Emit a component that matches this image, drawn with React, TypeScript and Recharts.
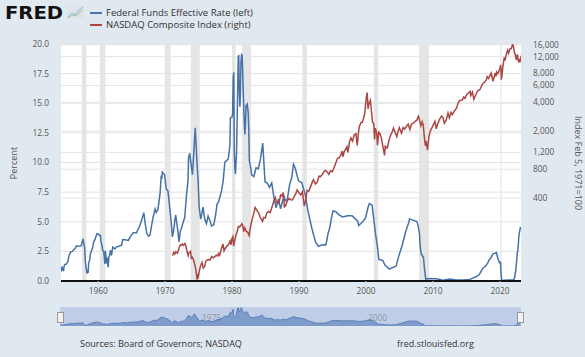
import React from 'react';
import { ComposedChart, Line, XAxis, YAxis, CartesianGrid, ReferenceArea, AreaChart, Area } from 'recharts';

const FONT = "'Open Sans', 'DejaVu Sans', sans-serif";

// Federal Funds Effective Rate (percent)
const fedDates = [
  1954.50, 1954.58, 1954.67, 1954.83, 1954.92, 1955.00, 1955.25, 1955.50, 1955.58, 1955.67, 1955.83, 1955.92,
  1956.17, 1956.33, 1956.58, 1956.75, 1956.92, 1957.25, 1957.50, 1957.67, 1957.75, 1957.92, 1958.00, 1958.08,
  1958.17, 1958.33, 1958.42, 1958.50, 1958.58, 1958.75, 1958.83, 1958.92, 1959.17, 1959.33, 1959.50, 1959.67,
  1959.83, 1960.00, 1960.17, 1960.33, 1960.42, 1960.58, 1960.67, 1960.83, 1960.92, 1961.00, 1961.08, 1961.17,
  1961.25, 1961.33, 1961.50, 1961.58, 1961.75, 1961.83, 1962.00, 1962.17, 1962.50, 1962.75, 1963.00, 1963.50,
  1963.67, 1964.00, 1964.50, 1964.92, 1965.25, 1965.75, 1965.92, 1966.17, 1966.50, 1966.83, 1967.00, 1967.25,
  1967.50, 1967.75, 1967.92, 1968.25, 1968.50, 1968.67, 1968.92, 1969.25, 1969.42, 1969.50, 1969.58, 1969.92,
  1970.17, 1970.42, 1970.67, 1970.92, 1971.08, 1971.25, 1971.50, 1971.58, 1971.92, 1972.08, 1972.25, 1972.50,
  1972.75, 1972.92, 1973.17, 1973.42, 1973.50, 1973.67, 1973.83, 1974.08, 1974.25, 1974.50, 1974.58, 1974.75,
  1974.92, 1975.08, 1975.25, 1975.33, 1975.67, 1975.92, 1976.17, 1976.42, 1976.75, 1976.92, 1977.25, 1977.50,
  1977.75, 1978.00, 1978.42, 1978.67, 1978.92, 1979.42, 1979.67, 1979.75, 1980.00, 1980.08, 1980.17, 1980.25,
  1980.33, 1980.42, 1980.50, 1980.67, 1980.83, 1980.92, 1981.00, 1981.08, 1981.17, 1981.25, 1981.33, 1981.42,
  1981.50, 1981.58, 1981.67, 1981.83, 1981.92, 1982.00, 1982.08, 1982.25, 1982.42, 1982.50, 1982.58, 1982.75,
  1982.92, 1983.25, 1983.58, 1983.92, 1984.25, 1984.58, 1984.75, 1984.92, 1985.25, 1985.58, 1985.92, 1986.25,
  1986.58, 1986.92, 1987.25, 1987.75, 1987.92, 1988.25, 1988.58, 1988.92, 1989.17, 1989.42, 1989.92, 1990.42,
  1990.92, 1991.33, 1991.92, 1992.25, 1992.50, 1992.92, 1993.50, 1994.00, 1994.17, 1994.33, 1994.58, 1994.83,
  1995.08, 1995.50, 1995.92, 1996.50, 1997.25, 1997.92, 1998.75, 1998.92, 1999.50, 1999.92, 2000.33, 2000.50,
  2000.92, 2001.00, 2001.25, 2001.42, 2001.67, 2001.92, 2002.50, 2002.83, 2003.50, 2004.50, 2004.92, 2005.42,
  2005.92, 2006.42, 2006.50, 2007.58, 2007.75, 2007.92, 2008.00, 2008.08, 2008.25, 2008.58, 2008.75, 2008.92,
  2009.50, 2010.50, 2011.50, 2012.50, 2013.50, 2014.50, 2015.50, 2015.92, 2016.50, 2016.92, 2017.17, 2017.42,
  2017.92, 2018.17, 2018.42, 2018.67, 2018.92, 2019.50, 2019.58, 2019.75, 2019.92, 2020.08, 2020.17, 2020.25,
  2021.00, 2022.00, 2022.17, 2022.33, 2022.42, 2022.50, 2022.58, 2022.67, 2022.75, 2022.83, 2022.92, 2023.00,
  2023.08,
];
const fedRates = [
  0.80, 1.22, 1.07, 0.83, 1.28, 1.39, 1.43, 1.68, 1.96, 2.18, 2.35, 2.48,
  2.50, 2.62, 2.75, 2.96, 2.94, 2.96, 3.00, 3.47, 3.50, 2.98, 2.72, 1.67,
  1.20, 0.63, 0.93, 0.68, 1.53, 1.80, 2.27, 2.42, 2.80, 3.30, 3.47, 3.76,
  4.00, 3.99, 3.84, 3.85, 3.32, 2.98, 2.60, 2.44, 1.98, 1.45, 2.54, 2.02,
  1.49, 1.98, 1.16, 2.00, 2.26, 2.61, 2.15, 2.85, 2.71, 2.90, 2.92, 3.02,
  3.49, 3.48, 3.42, 3.85, 4.07, 4.08, 4.32, 4.60, 5.17, 5.76, 4.94, 4.05,
  3.79, 3.88, 4.51, 5.50, 6.07, 5.78, 6.02, 7.41, 8.90, 8.61, 9.19, 8.97,
  7.76, 7.60, 6.29, 4.90, 3.72, 4.16, 5.31, 5.57, 4.14, 3.29, 4.17, 4.55,
  5.06, 5.33, 7.09, 8.49, 10.40, 10.78, 10.03, 8.97, 10.51, 12.92, 12.01, 10.06,
  8.53, 6.24, 5.49, 5.22, 6.24, 5.20, 4.84, 5.48, 5.03, 4.65, 4.73, 5.42,
  6.47, 6.70, 7.60, 8.45, 10.03, 10.29, 11.43, 13.77, 13.82, 14.13, 17.19, 17.61,
  10.98, 9.47, 9.03, 10.87, 15.85, 18.90, 19.08, 15.93, 14.70, 15.72, 18.52, 19.10,
  19.04, 17.82, 15.87, 13.31, 12.37, 13.22, 14.78, 14.94, 14.15, 12.59, 10.12, 9.71,
  8.95, 8.80, 9.56, 9.47, 10.32, 11.64, 9.99, 8.38, 8.27, 7.90, 8.27, 7.06,
  6.17, 6.91, 6.10, 7.22, 6.77, 6.87, 8.10, 8.76, 9.85, 9.53, 8.45, 8.29,
  7.31, 5.91, 4.43, 3.73, 3.25, 2.92, 3.06, 3.05, 3.48, 4.01, 4.47, 5.29,
  5.92, 5.85, 5.60, 5.40, 5.50, 5.50, 5.07, 4.68, 4.99, 5.30, 6.27, 6.53,
  6.40, 5.98, 4.80, 3.97, 3.07, 1.82, 1.73, 1.34, 1.01, 1.26, 2.16, 3.04,
  4.16, 4.99, 5.24, 5.02, 4.76, 4.24, 3.94, 2.98, 2.28, 2.00, 0.97, 0.16,
  0.21, 0.18, 0.07, 0.16, 0.09, 0.09, 0.13, 0.24, 0.38, 0.54, 0.79, 1.04,
  1.30, 1.51, 1.82, 1.95, 2.27, 2.40, 2.13, 1.83, 1.55, 1.58, 0.65, 0.05,
  0.09, 0.08, 0.20, 0.77, 1.21, 1.68, 2.33, 2.56, 3.08, 3.78, 4.10, 4.33,
  4.57,
];

// NASDAQ Composite Index (Feb 5, 1971 = 100)
const nasdaqDates = [
  1971.10, 1971.30, 1971.45, 1971.60, 1971.85, 1971.98, 1972.15, 1972.30, 1972.45, 1972.60, 1972.75, 1972.95,
  1973.10, 1973.30, 1973.45, 1973.55, 1973.80, 1973.92, 1974.05, 1974.20, 1974.40, 1974.55, 1974.70, 1974.77,
  1974.83, 1974.92, 1975.05, 1975.20, 1975.35, 1975.50, 1975.70, 1975.90, 1976.10, 1976.30, 1976.50, 1976.70,
  1976.95, 1977.20, 1977.45, 1977.65, 1977.85, 1977.98, 1978.15, 1978.40, 1978.65, 1978.80, 1978.95, 1979.20,
  1979.45, 1979.70, 1979.85, 1979.98, 1980.12, 1980.23, 1980.40, 1980.60, 1980.80, 1980.95, 1981.15, 1981.45,
  1981.60, 1981.73, 1981.90, 1982.10, 1982.35, 1982.55, 1982.75, 1982.95, 1983.20, 1983.45, 1983.60, 1983.80,
  1983.98, 1984.20, 1984.55, 1984.70, 1984.95, 1985.20, 1985.45, 1985.70, 1985.98, 1986.25, 1986.45, 1986.65,
  1986.98, 1987.25, 1987.45, 1987.65, 1987.80, 1987.98, 1988.25, 1988.50, 1988.75, 1988.98, 1989.25, 1989.55,
  1989.72, 1989.98, 1990.25, 1990.50, 1990.78, 1990.98, 1991.20, 1991.45, 1991.70, 1991.98, 1992.15, 1992.45,
  1992.70, 1992.98, 1993.20, 1993.45, 1993.75, 1993.98, 1994.20, 1994.45, 1994.70, 1994.98, 1995.25, 1995.50,
  1995.75, 1995.98, 1996.25, 1996.45, 1996.55, 1996.75, 1996.98, 1997.15, 1997.30, 1997.55, 1997.75, 1997.98,
  1998.25, 1998.50, 1998.70, 1998.85, 1998.98, 1999.25, 1999.45, 1999.65, 1999.80, 1999.98, 2000.10, 2000.19,
  2000.30, 2000.45, 2000.65, 2000.80, 2000.98, 2001.15, 2001.28, 2001.40, 2001.60, 2001.72, 2001.90, 2002.05,
  2002.30, 2002.55, 2002.77, 2002.88, 2002.98, 2003.20, 2003.45, 2003.70, 2003.98, 2004.10, 2004.35, 2004.60,
  2004.80, 2004.98, 2005.30, 2005.55, 2005.75, 2005.98, 2006.30, 2006.55, 2006.80, 2006.98, 2007.15, 2007.30,
  2007.60, 2007.82, 2007.98, 2008.20, 2008.40, 2008.55, 2008.75, 2008.88, 2008.98, 2009.18, 2009.40, 2009.60,
  2009.98, 2010.30, 2010.50, 2010.70, 2010.98, 2011.30, 2011.50, 2011.70, 2011.98, 2012.25, 2012.45, 2012.70,
  2012.90, 2013.20, 2013.50, 2013.75, 2013.98, 2014.20, 2014.40, 2014.60, 2014.80, 2014.98, 2015.30, 2015.55,
  2015.65, 2015.90, 2016.10, 2016.40, 2016.70, 2016.98, 2017.40, 2017.70, 2017.98, 2018.10, 2018.30, 2018.70,
  2018.97, 2019.30, 2019.42, 2019.55, 2019.70, 2019.98, 2020.12, 2020.22, 2020.45, 2020.65, 2020.75, 2020.98,
  2021.15, 2021.30, 2021.50, 2021.70, 2021.88, 2022.00, 2022.15, 2022.30, 2022.45, 2022.60, 2022.78, 2022.90,
  2022.98, 2023.08, 2023.12,
];
const nasdaqValues = [
  100, 108, 104, 110, 106, 114, 124, 130, 129, 132, 128, 134,
  126, 109, 100, 107, 111, 94, 96, 92, 82, 74, 62, 56,
  64, 58, 66, 74, 80, 85, 74, 77, 88, 90, 91, 90,
  98, 95, 98, 101, 99, 105, 101, 118, 132, 112, 118, 125,
  130, 142, 130, 151, 158, 126, 145, 165, 183, 202, 200, 215,
  205, 178, 195, 180, 175, 162, 200, 232, 270, 318, 305, 290,
  278, 250, 228, 250, 247, 280, 290, 282, 325, 375, 405, 360,
  349, 430, 420, 455, 323, 330, 375, 395, 384, 381, 410, 450,
  485, 454, 430, 465, 330, 374, 480, 470, 520, 586, 620, 560,
  583, 677, 670, 700, 760, 777, 750, 706, 770, 752, 840, 933,
  1040, 1052, 1130, 1240, 1080, 1230, 1291, 1370, 1200, 1560, 1700, 1570,
  1830, 1880, 1420, 1850, 2193, 2460, 2470, 2760, 3000, 4069, 4700, 5048,
  3400, 3900, 4200, 3300, 2470, 2400, 1640, 2150, 1900, 1423, 1940, 1900,
  1700, 1350, 1114, 1420, 1335, 1340, 1620, 1830, 2003, 2150, 1950, 1752,
  2000, 2175, 1904, 2180, 2100, 2205, 2370, 2080, 2370, 2415, 2450, 2520,
  2600, 2860, 2652, 2270, 2500, 2300, 1650, 1400, 1577, 1268, 1750, 2000,
  2269, 2530, 2110, 2370, 2652, 2873, 2770, 2415, 2605, 3091, 2750, 3140,
  2970, 3250, 3450, 3900, 4176, 4200, 4250, 4550, 4400, 4736, 5000, 5200,
  4700, 5100, 4300, 4800, 5300, 5383, 6200, 6500, 6903, 7400, 7100, 8100,
  6635, 8095, 7450, 8300, 8000, 8973, 9800, 6900, 9500, 11800, 10900, 12888,
  14000, 13000, 14500, 14600, 16050, 15600, 13500, 12500, 11100, 12700, 10500, 11300,
  10466, 11600, 11400,
];

// NBER recessions
const recessionStarts = [1957.58, 1960.25, 1969.92, 1973.83, 1980.0, 1981.5, 1990.5, 2001.17, 2007.92, 2020.08];
const recessionEnds = [1958.25, 1961.08, 1970.83, 1975.17, 1980.5, 1982.83, 1991.17, 2001.83, 2009.42, 2020.25];

const xTicks = [1960, 1970, 1980, 1990, 2000, 2010, 2020];
const leftTicks = [0, 2.5, 5, 7.5, 10, 12.5, 15, 17.5, 20];
const rightTicks = [400, 800, 1200, 2000, 4000, 6000, 8000, 12000, 16000];

const X_DOMAIN: [number, number] = [1954.45, 2023.15];

const fedData = fedDates.map((t, i) => ({ t, v: fedRates[i] }));
const nasdaqData = nasdaqDates.map((t, i) => ({ t, v: nasdaqValues[i] }));

const tickStyle = { fontSize: 8.3, fill: '#555', fontFamily: FONT };

export default function App() {
  return (
    <div style={{ position: 'absolute', left: 0, top: 0, width: 585, height: 357, background: '#e1e9f0', fontFamily: FONT, overflow: 'hidden' }}>
      {/* FRED logo */}
      <div style={{ position: 'absolute', left: 5, top: 2, fontFamily: "'DejaVu Sans', sans-serif", fontWeight: 'bold', fontSize: 17, lineHeight: '22px', color: '#111', transform: 'scaleX(1.15)', transformOrigin: 'left center' }}>FRED</div>
      <svg style={{ position: 'absolute', left: 67, top: 5 }} width={17} height={14}>
        <rect x={0} y={0} width={17} height={14} fill="#dfe4e8" />
        <polyline points="1,12 5,8 8,10 12,5 16,2" fill="none" stroke="#8ab4d8" strokeWidth={1} />
        <polyline points="1,13 5,10 9,11 13,7 16,5" fill="none" stroke="#9fc48a" strokeWidth={1} />
      </svg>
      {/* Legend */}
      <div style={{ position: 'absolute', left: 90, top: 12, width: 12, height: 2, background: '#4572a7' }} />
      <div style={{ position: 'absolute', left: 106, top: 6, fontSize: 9.5, lineHeight: '14px', color: '#333' }}>Federal Funds Effective Rate (left)</div>
      <div style={{ position: 'absolute', left: 90, top: 24, width: 12, height: 2, background: '#aa4643' }} />
      <div style={{ position: 'absolute', left: 106, top: 18, fontSize: 9.5, lineHeight: '14px', color: '#333' }}>NASDAQ Composite Index (right)</div>

      {/* Axis titles */}
      <div style={{ position: 'absolute', left: 13.5 - 50, top: 163 - 7, width: 100, height: 14, lineHeight: '14px', textAlign: 'center', fontSize: 9, color: '#555', transform: 'rotate(-90deg)' }}>Percent</div>
      <div style={{ position: 'absolute', left: 577.5 - 70, top: 163 - 7, width: 140, height: 14, lineHeight: '14px', textAlign: 'center', fontSize: 9, color: '#555', transform: 'rotate(90deg)' }}>Index Feb 5, 1971=100</div>

      {/* Main chart */}
      <div style={{ position: 'absolute', left: 0, top: 0 }}>
        <ComposedChart width={585} height={300} margin={{ top: 44, right: 0, bottom: 0, left: 0 }}>
          {recessionStarts.map((s, i) => (
            <ReferenceArea key={i} yAxisId="left" x1={s} x2={recessionEnds[i]} y1={0} y2={20} fill="#e5e5e5" fillOpacity={1} stroke="none" ifOverflow="hidden" />
          ))}
          <CartesianGrid yAxisId="left" vertical={false} stroke="#e4e4e4" fill="#ffffff" />
          <CartesianGrid yAxisId="right" vertical={false} stroke="#e4e4e4" />
          <XAxis dataKey="t" type="number" domain={X_DOMAIN} ticks={xTicks} allowDataOverflow height={19} tickSize={5} tickMargin={2}
            axisLine={{ stroke: '#111', strokeWidth: 2 }} tickLine={{ stroke: '#ccd6eb' }} tick={tickStyle} />
          <YAxis yAxisId="left" orientation="left" width={61} domain={[0, 20]} ticks={leftTicks} allowDataOverflow interval={0}
            tickFormatter={(v: number) => v.toFixed(1)} axisLine={false} tickLine={false} tickSize={0} tickMargin={12} tick={tickStyle} />
          <YAxis yAxisId="right" orientation="right" width={64} scale="log" domain={[54.3, 16265]} ticks={rightTicks} allowDataOverflow interval={0}
            tickFormatter={(v: number) => v.toLocaleString('en-US')} axisLine={false} tickLine={false} tickSize={0} tickMargin={12} tick={{ ...tickStyle, textAnchor: 'start' }} />
          <Line yAxisId="left" data={fedData} dataKey="v" type="linear" stroke="#4572a7" strokeWidth={1.5} dot={false} isAnimationActive={false} />
          <Line yAxisId="right" data={nasdaqData} dataKey="v" type="linear" stroke="#aa4643" strokeWidth={1.5} dot={false} isAnimationActive={false} />
        </ComposedChart>
      </div>

      {/* Navigator */}
      <div style={{ position: 'absolute', left: 60, top: 307, width: 461, height: 19, background: '#bfcde6' }} />
      <div style={{ position: 'absolute', left: 60, top: 307 }}>
        <AreaChart width={461} height={19} margin={{ top: 0, right: 0, bottom: 0, left: 0 }}>
          <XAxis dataKey="t" type="number" domain={X_DOMAIN} hide allowDataOverflow />
          <YAxis domain={[0, 20]} hide />
          <Area data={fedData} dataKey="v" type="linear" stroke="#5a7fba" strokeWidth={1} fill="#7f9bcb" fillOpacity={1} isAnimationActive={false} />
        </AreaChart>
      </div>
      <div style={{ position: 'absolute', left: 202, top: 312, fontSize: 8.3, lineHeight: '11px', color: 'rgba(110,110,110,0.6)' }}>1975</div>
      <div style={{ position: 'absolute', left: 368, top: 312, fontSize: 8.3, lineHeight: '11px', color: 'rgba(110,110,110,0.6)' }}>2000</div>
      <div style={{ position: 'absolute', left: 57, top: 312, width: 5, height: 9, background: '#f2f2f2', border: '1px solid #999' }} />
      <div style={{ position: 'absolute', left: 517, top: 312, width: 5, height: 9, background: '#f2f2f2', border: '1px solid #999' }} />

      {/* Footer */}
      <div style={{ position: 'absolute', left: 80, top: 338, fontSize: 9, lineHeight: '12px', color: '#333' }}>Sources: Board of Governors; NASDAQ</div>
      <div style={{ position: 'absolute', left: 397, top: 338, fontSize: 9, lineHeight: '12px', color: '#333' }}>fred.stlouisfed.org</div>
    </div>
  );
}
